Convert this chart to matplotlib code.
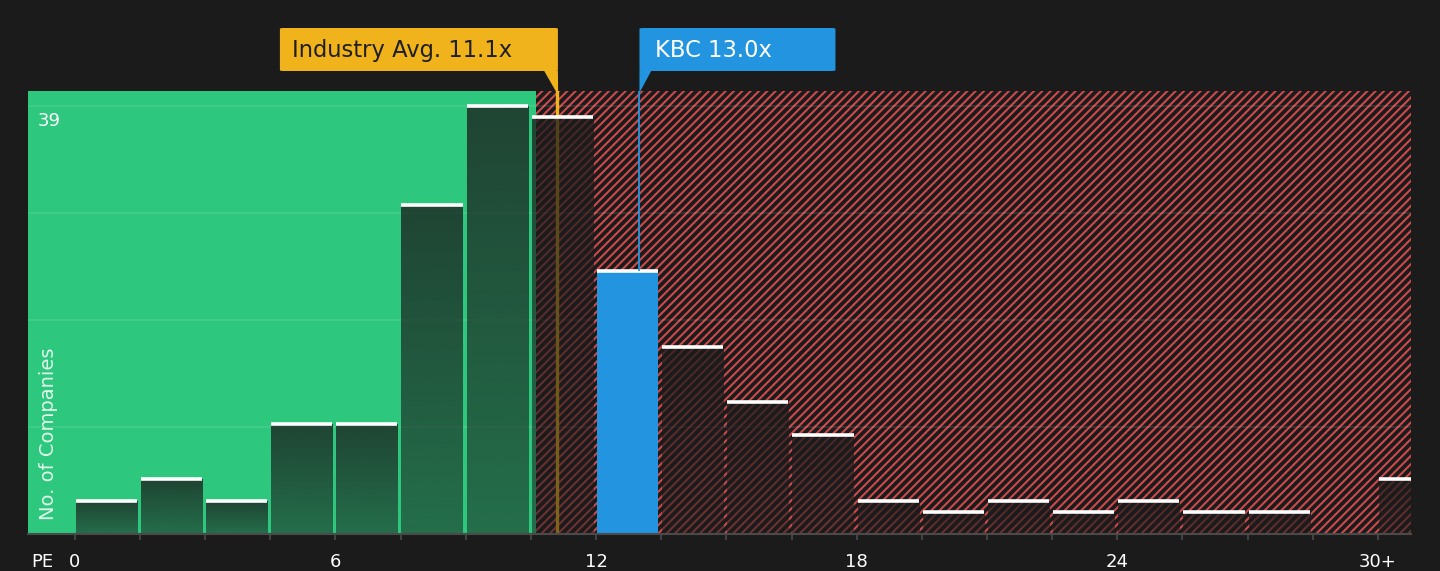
import numpy as np
import matplotlib
matplotlib.use("Agg")
import matplotlib.pyplot as plt
import matplotlib.transforms as mtransforms
from matplotlib.patches import FancyBboxPatch, Polygon

# ---- data ----
bin_width = 1.5
bin_lefts = [0, 1.5, 3, 4.5, 6, 7.5, 9, 10.5, 12, 13.5, 15, 16.5, 18, 19.5,
             21, 22.5, 24, 25.5, 27, 28.5, 30]
counts = [3, 5, 3, 10, 10, 30, 39, 38, 24, 17, 12, 9, 3, 2, 3, 2, 3, 2, 2, 0, 5]
tick_values = [0, 6, 12, 18, 24, 30]
tick_labels = ["0", "6", "12", "18", "24", "30+"]
industry_avg = 11.1
company_name = "KBC"
company_pe = 13.0
green_limit = 10.62

# ---- style ----
BG = "#1b1b1b"
GREEN = "#2ec77e"
RED = "#cc4a4c"
BLUE = "#2394e0"
ORANGE = "#f0b31b"

plt.rcParams["font.family"] = ["DejaVu Sans"]
plt.rcParams["hatch.linewidth"] = 1.5

fig = plt.figure(figsize=(14.4, 5.71), dpi=100, facecolor=BG)
ax = fig.add_axes([28 / 1440, 1 - 534 / 571, (1411 - 28) / 1440, (534 - 91) / 571])
ax.set_facecolor(BG)

xmin, xmax = -1.075, 30.76
ymax_count = max(counts)
ymin, ymax = 0, ymax_count * 443 / 428
ax.set_xlim(xmin, xmax)
ax.set_ylim(ymin, ymax)

# background zones
ax.axvspan(xmin, green_limit, facecolor=GREEN, edgecolor="none", zorder=0)
ax.axvspan(green_limit, xmax + 5, facecolor="none", edgecolor=RED, hatch="////",
           linewidth=0, zorder=0.2)

# gridlines
for k in range(1, 5):
    ax.axhline(ymax_count * k / 4, color="white", alpha=0.1, lw=1.2, zorder=0.5)

# industry average line (under bars)
ax.axvline(industry_avg, color=ORANGE, lw=2.4, zorder=1.5)

# bars
gap_l = 0.02
bar_w = 1.41
n = 64
alpha_col = np.linspace(0.76, 0.52, n)
dark = np.zeros((n, 1, 4))
dark[..., 0] = 27 / 255
dark[..., 1] = 27 / 255
dark[..., 2] = 27 / 255
dark[:, 0, 3] = alpha_col
for left, c in zip(bin_lefts, counts):
    if c <= 0:
        continue
    l = left + gap_l
    r = l + bar_w
    is_company = left <= company_pe < left + bin_width
    if is_company:
        ax.bar(l, c, width=bar_w, align="edge", color=BLUE, zorder=2, linewidth=0)
    else:
        ax.imshow(dark, extent=[l, r, 0, c], aspect="auto", origin="upper",
                  interpolation="bilinear", zorder=2)
    ax.hlines(c, l, r, color="white", lw=2.6, zorder=3)

ax.set_xlim(xmin, xmax)
ax.set_ylim(ymin, ymax)

# company line
ax.plot([company_pe, company_pe], [counts[bin_lefts.index(12)], ymax], color=BLUE,
        lw=1.3, zorder=4, solid_capstyle="butt")

# ---- callouts above axes ----
px_x = (1411 - 28) / (xmax - xmin)       # pixels per x unit
px_y = 443 / (ymax - ymin)                # pixels per y unit
box_bot = ymax + 20 / px_y
box_top = ymax + 63 / px_y

# industry box
ib_r = industry_avg + 1 / px_x
ib_l = ib_r - 278 / px_x
ax.add_patch(FancyBboxPatch((ib_l, box_bot), ib_r - ib_l, box_top - box_bot,
                            boxstyle="round,pad=0,rounding_size=0.08",
                            facecolor=ORANGE, edgecolor="none", clip_on=False,
                            zorder=5))
ax.add_patch(Polygon([(ib_r - 14 / px_x, box_bot + 0.05), (ib_r, box_bot + 0.05),
                      (industry_avg + 1.2 / px_x, ymax), (industry_avg - 1.2 / px_x, ymax)],
                     closed=True, facecolor=ORANGE, edgecolor="none",
                     clip_on=False, zorder=5))
ax.text(ib_l + 12 / px_x, (box_bot + box_top) / 2 - 0.05, f"Industry Avg. {industry_avg:.1f}x",
        color="#1f1f1f", fontsize=16.3, va="center", ha="left", zorder=6, clip_on=False)

# company box
cb_l = company_pe
cb_r = cb_l + 196 / px_x
ax.add_patch(FancyBboxPatch((cb_l, box_bot), cb_r - cb_l, box_top - box_bot,
                            boxstyle="round,pad=0,rounding_size=0.08",
                            facecolor=BLUE, edgecolor="none", clip_on=False,
                            zorder=5))
ax.add_patch(Polygon([(cb_l, box_bot + 0.05), (cb_l + 12 / px_x, box_bot + 0.05),
                      (cb_l + 1 / px_x, ymax), (cb_l, ymax)],
                     closed=True, facecolor=BLUE, edgecolor="none",
                     clip_on=False, zorder=5))
ax.text(cb_l + 16 / px_x, (box_bot + box_top) / 2 - 0.05, f"{company_name} {company_pe:.1f}x",
        color="white", fontsize=16.3, va="center", ha="left", zorder=6, clip_on=False)

# ---- axes decorations ----
for s in ["top", "right", "left"]:
    ax.spines[s].set_visible(False)
ax.spines["bottom"].set_color("#4a4a4a")
ax.spines["bottom"].set_linewidth(1.5)
ax.spines["bottom"].set_zorder(4)

ax.set_xticks(bin_lefts, minor=True)
ax.set_xticks(tick_values)
ax.set_xticklabels(tick_labels)
ax.tick_params(axis="x", which="both", length=4.5, width=1.2, color="#4a4a4a",
               labelcolor="white", labelsize=13, pad=9.5)
ax.set_yticks([])

ax.text(0.0101, -0.0, "PE", transform=mtransforms.offset_copy(ax.transAxes, fig=fig, y=-14, units="points"),
        color="white", fontsize=13, ha="center", va="top")

ax.text(0.0072, 1 - 21 / 443, f"{ymax_count}", transform=ax.transAxes, color="white",
        fontsize=13, ha="left", va="top", zorder=6)

ax.text(0.0145, 0.032, "No. of Companies", transform=ax.transAxes, rotation=90,
        color="white", alpha=0.85, fontsize=14, ha="center", va="bottom", zorder=6)

fig.savefig("out.png", dpi=100, facecolor=BG)
